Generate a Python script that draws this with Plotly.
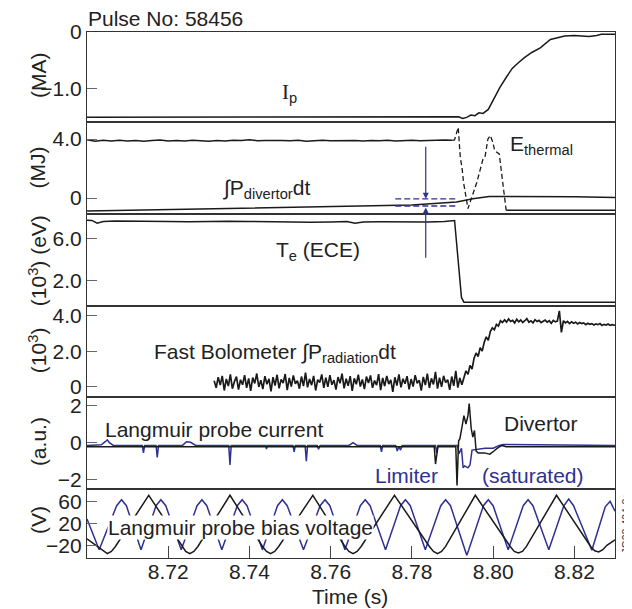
import plotly.graph_objects as go

# ---------------- data ----------------
X_RANGE = [8.70, 8.83]
time_ticks = [8.72, 8.74, 8.76, 8.78, 8.80, 8.82]
time_tick_labels = ["8.72", "8.74", "8.76", "8.78", "8.80", "8.82"]

# Panel 1: plasma current Ip (MA)
ip_t = [8.700, 8.7905, 8.7915, 8.7925, 8.7935, 8.7945, 8.7955, 8.7965, 8.7975, 8.7988,
        8.8000, 8.8017, 8.8032, 8.8047, 8.8062, 8.8077, 8.8095, 8.8116, 8.8141, 8.8160,
        8.8176, 8.8200, 8.8236, 8.8255, 8.8266, 8.8300]
ip_v = [-1.50, -1.50, -1.49, -1.52, -1.50, -1.46, -1.47, -1.42, -1.43, -1.36,
        -1.20, -0.97, -0.80, -0.64, -0.54, -0.45, -0.36, -0.28, -0.13, -0.09,
        -0.07, -0.06, -0.08, -0.06, -0.04, -0.04]

# Panel 2: E_thermal (MJ) – noisy part on a 2 ms grid from 8.700
eth_noise_t0 = 8.700
eth_noise_dt = 0.002
eth_noise_v = [3.95, 3.86, 3.92, 3.87, 3.93, 3.88, 3.91, 3.86, 3.90, 3.94,
               3.88, 3.91, 3.87, 3.92, 3.89, 3.86, 3.90, 3.88, 3.92, 3.90,
               3.95, 3.89, 3.91, 3.88, 3.90, 3.89, 3.93, 3.86, 3.90, 3.92,
               3.89, 3.91, 3.88, 3.90, 3.87, 3.91, 3.89, 3.92, 3.88, 3.90,
               3.93, 3.89, 3.91, 3.88, 3.94, 3.92]
eth_dash_t = [8.790, 8.7905, 8.7914, 8.7919, 8.7924, 8.7927, 8.7938, 8.7960, 8.7975, 8.7980,
              8.7987, 8.7993, 8.7999, 8.8004, 8.8015, 8.8024, 8.8032]
eth_dash_v = [3.92, 3.95, 4.80, 2.80, 1.90, 1.08, -0.72, 1.08, 2.65, 2.80,
              4.00, 4.25, 3.80, 3.20, 3.00, 1.08, -0.83]
eth_after_t = [8.8032, 8.8300]
eth_after_v = [-0.83, -0.83]

# Panel 2: integral of divertor power (MJ)
pdiv_t = [8.700, 8.720, 8.740, 8.7722, 8.7800, 8.7910, 8.7950, 8.7990, 8.8100, 8.8200, 8.8300]
pdiv_v = [-0.88, -0.78, -0.70, -0.54, -0.47, -0.27, -0.05, 0.11, 0.11, 0.08, 0.04]
band_t = [8.7759, 8.7907]
band_levels = [-0.05, -0.54]
arrow_t = 8.7834

# Panel 3: Te (ECE) (10^3 eV)
te_t = [8.7000, 8.7012, 8.7025, 8.7040, 8.7070, 8.7110, 8.7150, 8.7200, 8.7250, 8.7300,
        8.7350, 8.7400, 8.7450, 8.7500, 8.7550, 8.7600, 8.7640, 8.7660, 8.7680, 8.7720,
        8.7760, 8.7800, 8.7840, 8.7880, 8.7905, 8.7922, 8.7928, 8.8300]
te_v = [7.75, 7.72, 7.46, 7.62, 7.66, 7.63, 7.66, 7.62, 7.60, 7.64,
        7.65, 7.62, 7.58, 7.60, 7.55, 7.58, 7.63, 7.45, 7.58, 7.60,
        7.57, 7.60, 7.58, 7.62, 7.72, 0.40, -0.05, -0.05]

# Panel 4: fast bolometer (10^3), sampled every 0.5 ms from 8.7313
bolo_t0 = 8.7313
bolo_dt = 0.0005
bolo_v = [0.35, -0.05, 0.55, 0.10, 0.62, -0.20, 0.45, 0.05, 0.70, -0.10,
          0.30, 0.58, -0.15, 0.40, 0.12, 0.66, -0.05, 0.48, -0.22, 0.52,
          0.20, 0.75, 0.00, 0.38, -0.12, 0.60, 0.15, 0.45, -0.25, 0.55,
          0.08, 0.68, -0.08, 0.42, 0.22, 0.72, -0.18, 0.50, 0.02, 0.64,
          0.18, 0.35, -0.10, 0.58, 0.05, 0.80, -0.02, 0.44, 0.10, 0.62,
          -0.20, 0.40, 0.25, 0.70, -0.05, 0.52, 0.00, 0.66, 0.12, 0.38,
          -0.15, 0.55, 0.20, 0.74, -0.08, 0.46, 0.06, 0.60, -0.22, 0.48,
          0.15, 0.68, 0.02, 0.42, -0.12, 0.58, 0.22, 0.64, -0.05, 0.36,
          0.10, 0.72, -0.18, 0.50, 0.04, 0.62, 0.16, 0.40, -0.28, 0.54,
          0.08, 0.70, -0.02, 0.46, 0.18, 0.60, -0.14, 0.44, 0.02, 0.66,
          0.20, 0.38, -0.20, 0.56, 0.10, 0.74, -0.06, 0.48, 0.14, 0.84,
          -0.10, 0.52, 0.00, 0.62, 0.24, 0.40, -0.16, 0.58, 0.06, 0.90,
          -0.04, 0.50, 0.12,
          0.50, 0.90, 0.70, 1.20, 1.00, 1.60, 1.90, 1.70, 2.20, 2.00,
          2.50, 2.80, 2.60, 3.10, 3.30, 3.20, 3.50, 3.40, 3.70, 3.60,
          3.75, 3.62, 3.80, 3.66, 3.72, 3.58, 3.78, 3.64, 3.74, 3.60,
          3.70, 3.82, 3.62, 3.70, 3.58, 3.76, 3.66, 3.72, 3.60, 3.68,
          3.74, 3.62, 3.70, 3.56, 3.72, 3.64, 3.68, 4.25, 3.05, 3.70,
          3.58, 3.66, 3.54, 3.64, 3.56, 3.62, 3.52, 3.60, 3.54, 3.58,
          3.48, 3.56, 3.50, 3.54, 3.46, 3.52, 3.48, 3.54, 3.44, 3.50,
          3.46, 3.52, 3.44, 3.48, 3.45, 3.47]

# Panel 5: Langmuir probe current (a.u.)
lim_cur_t = [8.700,
             8.7035, 8.7045, 8.7050, 8.7055, 8.7065,
             8.7136, 8.7139, 8.7142,
             8.7170, 8.7173, 8.7176,
             8.7235, 8.7245, 8.7255, 8.7268,
             8.7349, 8.7352, 8.7355,
             8.7440, 8.7442, 8.7444,
             8.7507, 8.7510, 8.7513,
             8.7537, 8.7540, 8.7543,
             8.7567, 8.7570, 8.7574,
             8.7645, 8.7655, 8.7665,
             8.7722, 8.7725, 8.7728,
             8.7760, 8.7764, 8.7768, 8.7772, 8.7776,
             8.7858, 8.7861, 8.7864,
             8.7912, 8.7916, 8.7922, 8.7926, 8.7930, 8.7938, 8.7943, 8.7948, 8.7960, 8.7980,
             8.8000, 8.8015, 8.8025, 8.8300]
lim_cur_v = [-0.15,
             -0.12, 0.05, 0.15, 0.00, -0.15,
             -0.15, -0.55, -0.15,
             -0.15, -0.80, -0.15,
             -0.15, 0.05, 0.02, -0.15,
             -0.15, -1.20, -0.15,
             -0.15, -0.35, -0.15,
             -0.15, -0.50, -0.15,
             -0.15, -1.00, -0.15,
             -0.15, -0.35, -0.15,
             -0.15, 0.00, -0.15,
             -0.15, -0.50, -0.15,
             -0.15, -0.45, -0.20, -0.40, -0.15,
             -0.15, -0.55, -0.15,
             -0.15, -0.60, -0.30, -1.35, -1.25, -1.35, -1.20, -0.40, -0.35, -0.30,
             -0.30, -0.15, -0.10, -0.15]
div_cur_t = [8.700, 8.7855, 8.7858, 8.7861, 8.7864, 8.7908, 8.7911, 8.7915, 8.7918, 8.7923,
             8.7928, 8.7933, 8.7938, 8.7941, 8.7946, 8.7950, 8.7954, 8.7958, 8.7963, 8.7978,
             8.7992, 8.8002, 8.8012, 8.8022, 8.8032, 8.8300]
div_cur_v = [-0.22, -0.22, -1.15, -0.50, -0.22, -0.22, -2.30, 0.10, 0.20, 0.80,
             1.45, 1.00, 1.45, 2.10, 0.75, 0.30, 0.65, -0.45, -0.55, -0.55,
             -0.62, -0.45, -0.27, -0.15, -0.22, -0.22]

# Panel 6: Langmuir probe bias voltage (V)
div_volt_t = [8.700, 8.703, 8.704, 8.705, 8.706, 8.707, 8.7152,
              8.7233, 8.7243, 8.7253, 8.7263, 8.7273, 8.7352,
              8.7432, 8.7442, 8.7452, 8.7462, 8.7472, 8.7556,
              8.7635, 8.7645, 8.7655, 8.7665, 8.7675, 8.7757,
              8.7843, 8.7853, 8.7863, 8.7873, 8.7883, 8.7956,
              8.8042, 8.8052, 8.8062, 8.8072, 8.8082, 8.8156,
              8.8240, 8.8250, 8.8260, 8.8270, 8.8280, 8.8300]
div_volt_v = [-8, -25, -31, -35, -31, -22, 71,
              -22, -31, -35, -31, -22, 71,
              -22, -31, -35, -31, -22, 71,
              -22, -31, -35, -31, -22, 71,
              -22, -31, -35, -31, -22, 71,
              -22, -31, -34, -31, -22, 71,
              -22, -30, -32, -28, -20, -10]
lim_volt_t = [8.700, 8.703, 8.7073, 8.7085, 8.7097, 8.7133, 8.7170, 8.7182, 8.7194,
              8.7232, 8.7271, 8.7283, 8.7295, 8.7332, 8.7370, 8.7382, 8.7394,
              8.7432, 8.7469, 8.7481, 8.7493, 8.7533, 8.7574, 8.7586, 8.7598,
              8.7635, 8.7673, 8.7685, 8.7697, 8.7735, 8.7772, 8.7784, 8.7796,
              8.7833, 8.7871, 8.7883, 8.7895, 8.7930, 8.7935, 8.7940, 8.7976, 8.7988, 8.8000,
              8.8037, 8.8074, 8.8086, 8.8098, 8.8137, 8.8174, 8.8186, 8.8198,
              8.8243, 8.8276, 8.8288, 8.8300]
lim_volt_v = [28, -28, 52, 63, 52, -28, 52, 63, 52,
              -28, 52, 63, 52, -28, 52, 63, 52,
              -28, 52, 63, 52, -28, 52, 63, 52,
              -28, 52, 63, 52, -28, 52, 63, 52,
              -28, 52, 63, 52, -30, -38, -28, 52, 63, 52,
              -28, 52, 63, 52, -28, 52, 64, 52,
              -29, 50, 60, 42]

# ---------------- figure ----------------
BLUE = "#2e3192"
BLACK = "#1a1a1a"
AX = "#333333"
FONT = "Liberation Sans, Arial, Helvetica, sans-serif"
FS = 21

fig = go.Figure()


def add_line(x, y, row, color=BLACK, dash=None, width=1.5):
    fig.add_trace(go.Scatter(
        x=x, y=y, mode="lines",
        line=dict(color=color, width=width, dash=dash),
        xaxis="x" if row == 1 else f"x{row}",
        yaxis="y" if row == 1 else f"y{row}",
        showlegend=False, hoverinfo="skip"))


add_line(ip_t, ip_v, 1)

eth_noise_t = [eth_noise_t0 + i * eth_noise_dt for i in range(len(eth_noise_v))]
add_line(eth_noise_t, eth_noise_v, 2)
add_line(eth_dash_t, eth_dash_v, 2, dash="5px,3px", width=1.3)
add_line(eth_after_t, eth_after_v, 2)
add_line(pdiv_t, pdiv_v, 2)
for lvl in band_levels:
    add_line(band_t, [lvl, lvl], 2, color=BLUE, dash="6px,3px", width=1.3)

add_line(te_t, te_v, 3)

bolo_t = [bolo_t0 + i * bolo_dt for i in range(len(bolo_v))]
add_line(bolo_t, bolo_v, 4, width=1.7)

add_line(lim_cur_t, lim_cur_v, 5, color=BLUE)
add_line(div_cur_t, div_cur_v, 5)

add_line(lim_volt_t, lim_volt_v, 6, color=BLUE)
add_line(div_volt_t, div_volt_v, 6)

# panel domains (paper fractions, top to bottom)
domains = [[0.828, 1.0], [0.6535, 0.828], [0.4796, 0.6535],
           [0.3062, 0.4796], [0.1318, 0.3062], [0.0, 0.1318]]
y_ranges = [[-1.59, 0.0], [-1.10, 5.13], [-0.39, 8.31],
            [-0.56, 4.54], [-2.47, 2.45], [-43, 83]]
y_tickvals = [[0, -1.0], [4.0, 0], [2, 6], [0, 2, 4], [-2, 0, 2], [-20, 20, 60]]
y_ticktext = [["0", "\u22121.0"], ["4.0", "0"], ["2.0", "6.0"], ["0", "2.0", "4.0"],
              ["\u22122", "0", "2"], ["\u221220", "20", "60"]]

# the page is shown with an 8 px body margin, so the figure is 8 px smaller
layout = dict(
    width=624, height=601,
    margin=dict(l=79, r=17, t=21, b=51),
    paper_bgcolor="white", plot_bgcolor="white",
    font=dict(family=FONT, size=FS, color="#222222"),
    showlegend=False,
)
for i in range(6):
    n = "" if i == 0 else str(i + 1)
    xa = dict(domain=[0, 1], range=X_RANGE, anchor=f"y{n}",
              showline=True, mirror=True, linecolor=AX, linewidth=1.2,
              showgrid=False, zeroline=False)
    if i < 5:
        xa.update(ticks="", showticklabels=False)
    else:
        xa.update(ticks="inside", ticklen=12, tickwidth=1.2, tickcolor="#444444",
                  tickvals=time_ticks, ticktext=time_tick_labels,
                  ticklabelstandoff=-5,
                  tickfont=dict(size=FS, family=FONT, color="#222222"))
    if i > 0:
        xa["matches"] = "x"
    layout[f"xaxis{n}"] = xa
    layout[f"yaxis{n}"] = dict(
        domain=domains[i], range=y_ranges[i], anchor=f"x{n}",
        showline=True, mirror=True, linecolor=AX, linewidth=1.2,
        showgrid=False, zeroline=False,
        ticks="inside", ticklen=10, tickwidth=1.2, tickcolor="#666666",
        tickvals=y_tickvals[i], ticktext=y_ticktext[i],
        tickfont=dict(size=FS, family=FONT, color="#222222"))

fig.update_layout(**layout)

# ---------------- annotations ----------------
ann = []


def text(x, y, s, row, color="#222222", size=FS, xanchor="left", bg=None):
    n = "" if row == 1 else str(row)
    d = dict(x=x, y=y, xref=f"x{n}", yref=f"y{n}", text=s, showarrow=False,
             xanchor=xanchor, yanchor="middle",
             font=dict(family=FONT, size=size, color=color))
    if bg:
        d.update(bgcolor=bg, borderpad=0)
    ann.append(d)


text(8.7475, -1.08, "<span style='font-family:Liberation Serif'>I</span><sub>p</sub>", 1)
text(8.8036, 3.62, "E<sub>thermal</sub>", 2)
text(8.7329, 0.62, "\u222bP<sub>divertor</sub>dt", 2)
text(8.7461, 4.80, "T<sub>e</sub> (ECE)", 3)
text(8.7159, 1.89, "Fast Bolometer \u222bP<sub>radiation</sub>dt", 4)
text(8.7040, 0.73, "Langmuir probe current", 5)
text(8.8022, 1.00, "Divertor", 5)
text(8.7705, -1.78, "Limiter", 5, color=BLUE)
text(8.7968, -1.78, "(saturated)", 5, color=BLUE)
text(8.7050, 12.5, "Langmuir probe bias voltage", 6, bg="white")

# arrows onto the dashed band
ann.append(dict(x=arrow_t, y=band_levels[0], xref="x2", yref="y2",
                ax=arrow_t, ay=3.58, axref="x2", ayref="y2",
                showarrow=True, arrowhead=2, arrowsize=1, arrowwidth=1.2,
                arrowcolor=BLUE, text=""))
ann.append(dict(x=arrow_t, y=-0.64, xref="x2", yref="y2",
                ax=arrow_t, ay=-4.16, axref="x2", ayref="y2",
                showarrow=True, arrowhead=2, arrowsize=1, arrowwidth=1.2,
                arrowcolor=BLUE, text=""))

# axis titles (rotated)
y_titles = ["(MA)", "(MJ)", "(10<sup>3</sup>) (eV)", "(10<sup>3</sup>)", "(a.u.)", "(V)"]
y_title_pos = [0.918, 0.742, 0.566, 0.395, 0.222, 0.072]
for s, yp in zip(y_titles, y_title_pos):
    ann.append(dict(x=-0.093, y=yp, xref="paper", yref="paper", text=s,
                    showarrow=False, textangle=-90, xanchor="center", yanchor="middle",
                    font=dict(family=FONT, size=FS, color="#222222")))

ann.append(dict(x=0.498, y=-0.0735, xref="paper", yref="paper", text="Time (s)",
                showarrow=False, xanchor="center", yanchor="middle",
                font=dict(family=FONT, size=FS, color="#222222")))
ann.append(dict(x=-0.002, y=1.0265, xref="paper", yref="paper", text="Pulse No: 58456",
                showarrow=False, xanchor="left", yanchor="middle",
                font=dict(family=FONT, size=FS, color="#222222")))
ann.append(dict(x=1.0205, y=0.065, xref="paper", yref="paper", text="JG03.404-3c",
                showarrow=False, textangle=-90, xanchor="center", yanchor="middle",
                font=dict(family=FONT, size=10.5, color="#333333")))

fig.update_layout(annotations=ann)
fig.write_html("out.html")
